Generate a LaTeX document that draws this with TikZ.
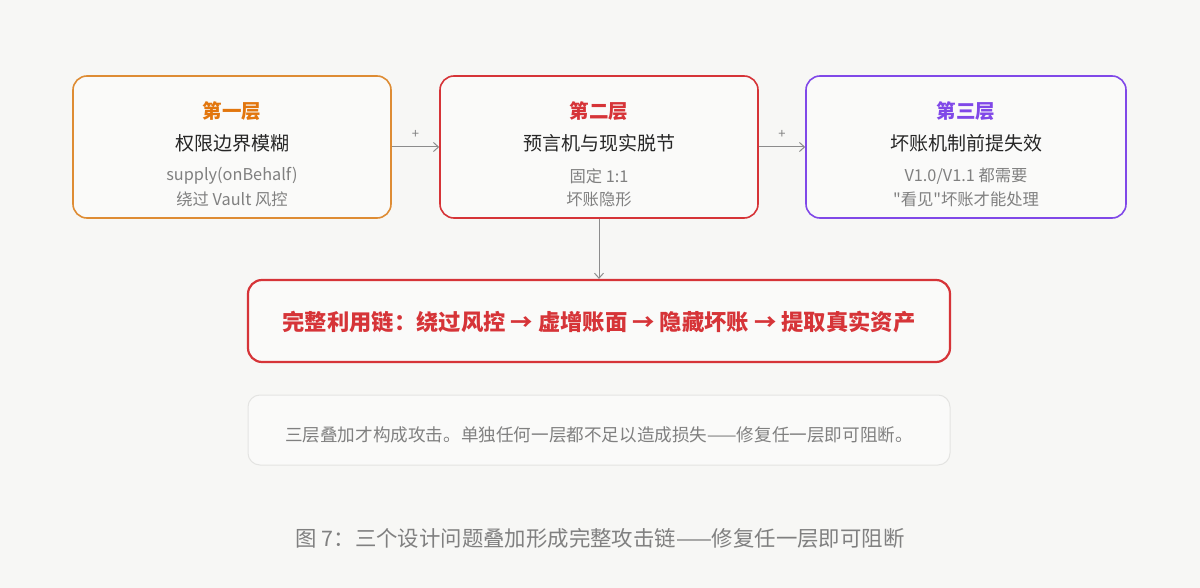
\documentclass[tikz,border=0pt]{standalone}
\usepackage{fontspec}
\setmainfont{Noto Sans CJK SC}
\newfontfamily\plaincjk{Noto Sans CJK SC}
\usepackage{xcolor}
\usepackage{tikz}
\usetikzlibrary{arrows.meta, calc}

\definecolor{bgC}{RGB}{247,247,245}
\definecolor{boxC}{RGB}{250,250,249}
\definecolor{orangeC}{RGB}{222,140,52}
\definecolor{orangeT}{RGB}{226,118,14}
\definecolor{redC}{RGB}{214,52,56}
\definecolor{purpleC}{RGB}{128,72,232}
\definecolor{grayT}{RGB}{128,128,128}
\definecolor{lineC}{RGB}{140,140,140}
\definecolor{noteC}{RGB}{228,228,226}

\tikzset{
  layerbox/.style={draw, line width=1.6pt, rounded corners=14pt, fill=boxC,
    minimum width=318pt, minimum height=142pt, inner sep=0pt},
  titletxt/.style={font=\fontsize{19.5}{23}\selectfont\bfseries},
  nametxt/.style={font=\fontsize{19}{23}\selectfont, text=black!85},
  subtxt/.style={font=\fontsize{16.3}{20}\selectfont, text=grayT},
  flow/.style={draw=lineC, line width=1pt, -{Straight Barb[length=5pt,width=9pt]}},
  plus/.style={font=\fontsize{13}{14}\selectfont, text=grayT}
}

\begin{document}
\begin{tikzpicture}[x=1pt, y=-1pt]
% Background
\fill[bgC] (0,0) rectangle (1200,588);
\useasboundingbox (0,0) rectangle (1200,588);

% Layer 1
\node[layerbox, draw=orangeC] (l1) at (232,147) {};
\node[titletxt, text=orangeT] (l1t) at (232,111) {第一层};
\node[nametxt] (l1n) at (232,143) {权限边界模糊};
\node[subtxt] (l1a) at (232,176) {supply(onBehalf)};
\node[subtxt] (l1b) at (232,199) {绕过 Vault 风控};

% Layer 2
\node[layerbox, draw=redC] (l2) at (599,147) {};
\node[titletxt, text=redC] (l2t) at (599,111) {第二层};
\node[nametxt] (l2n) at (599,143) {预言机与现实脱节};
\node[subtxt] (l2a) at (599,176) {固定 1:1};
\node[subtxt] (l2b) at (599,199) {坏账隐形};

% Layer 3
\node[layerbox, draw=purpleC, minimum width=320pt] (l3) at (966,147) {};
\node[titletxt, text=purpleC] (l3t) at (966,111) {第三层};
\node[nametxt] (l3n) at (966,143) {坏账机制前提失效};
\node[subtxt] (l3a) at (966,176) {V1.0/V1.1 都需要};
\node[subtxt] (l3b) at (966,199) {\plaincjk "看见"坏账才能处理};

% Stacking arrows
\draw[flow] (l1.east) -- (l2.west) node[midway, above=5pt, plus] {+};
\draw[flow] (l2.east) -- (l3.west) node[midway, above=5pt, plus] {+};

% Full chain
\node[draw=redC, line width=2.2pt, rounded corners=14pt, fill=boxC,
  minimum width=702pt, minimum height=82pt] (chain) at (599,321) {};
\node[font=\fontsize{22.3}{26}\selectfont\bfseries, text=redC] (chaint) at (599,322)
  {完整利用链：绕过风控 → 虚增账面 → 隐藏坏账 → 提取真实资产};
\draw[flow] (l2.south) -- (chain.north);

% Note
\node[draw=noteC, line width=1pt, rounded corners=12pt, fill=boxC,
  minimum width=702pt, minimum height=70pt] (note) at (599,430) {};
\node[font=\fontsize{17.6}{21}\selectfont, text=grayT] (notet) at (599,435)
  {三层叠加才构成攻击。单独任何一层都不足以造成损失——修复任一层即可阻断。};

% Caption
\node[font=\fontsize{21.4}{25}\selectfont, text=grayT] (cap) at (600,538)
  {图 7：三个设计问题叠加形成完整攻击链——修复任一层即可阻断};
\end{tikzpicture}
\end{document}
